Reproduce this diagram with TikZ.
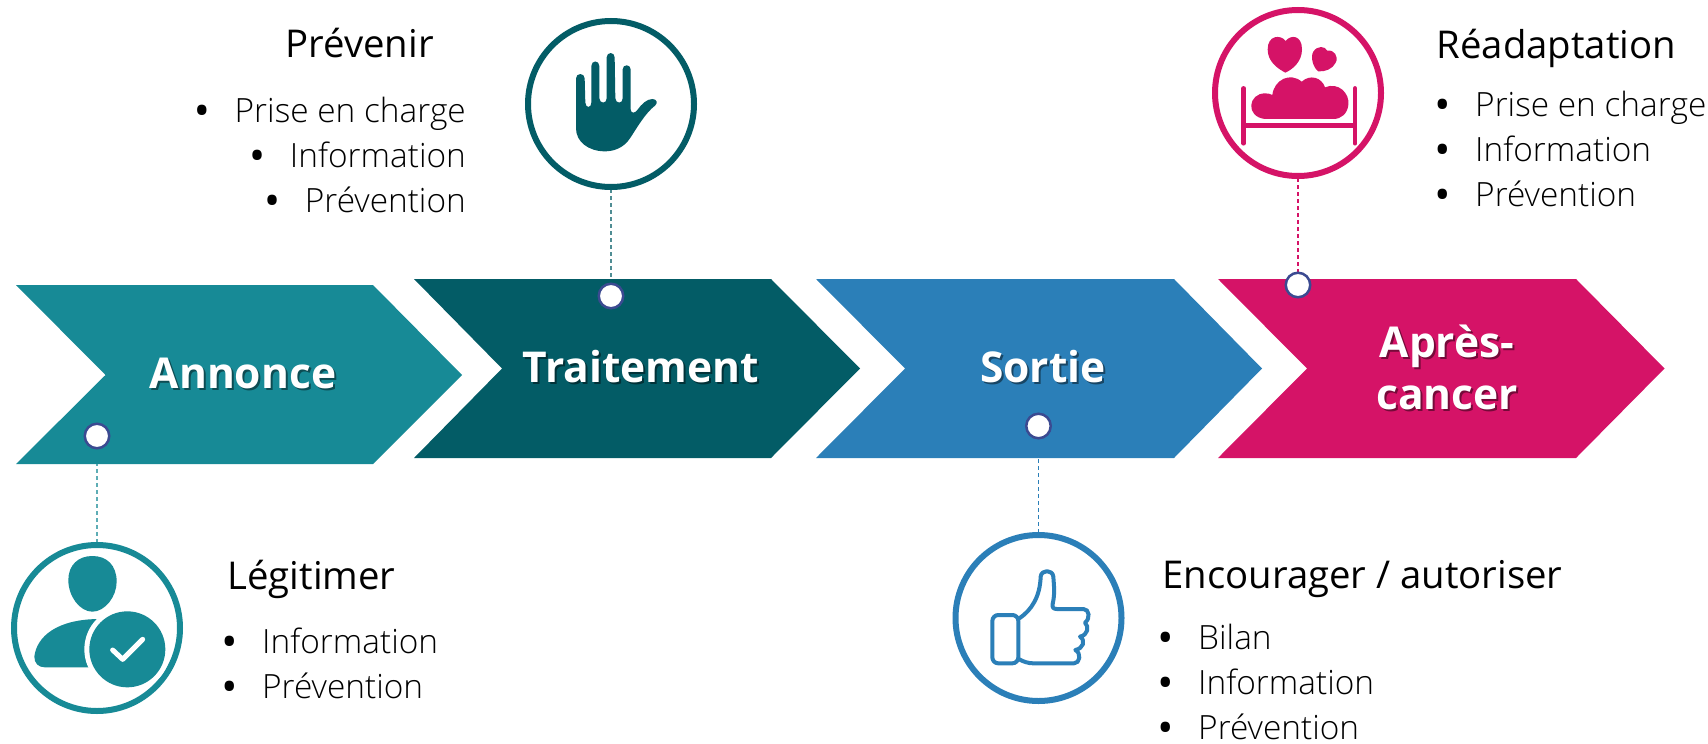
\documentclass[tikz,border=0pt]{standalone}
\usepackage{fontspec}
\setmainfont{Open Sans}
\newfontfamily\lightfont{Open Sans Light}
\usetikzlibrary{backgrounds}
\definecolor{tealA}{HTML}{178A96}
\definecolor{tealB}{HTML}{035C66}
\definecolor{blueC}{HTML}{2B7FB8}
\definecolor{pinkD}{HTML}{D51367}
\definecolor{dotblue}{HTML}{3B4A91}
\tikzset{
    ring/.style={circle, draw=#1, line width=6pt, fill=white, minimum size=166pt, inner sep=0pt, outer sep=0pt},
    dot/.style={circle, draw=dotblue, line width=2.5pt, fill=white, minimum size=24.5pt, inner sep=0pt, outer sep=0pt},
    link/.style={draw=#1, line width=1.3pt, dash pattern=on 4pt off 3pt},
    chevlabel/.style={text=white, font=\fontsize{42.5}{52}\selectfont\bfseries, align=center},
    title/.style={anchor=base west, font=\fontsize{38.3}{44}\selectfont},
    items/.style={anchor=north west, align=left, inner sep=0pt, font=\lightfont\fontsize{33.4}{45}\selectfont},
    itemsright/.style={anchor=north east, align=right, inner sep=0pt, font=\lightfont\fontsize{33.4}{45}\selectfont},
}
\newcommand{\bul}{\makebox[36pt][l]{\hspace{-3pt}{\normalfont\bfseries\textbullet}}}
\newcommand{\ombre}[2]{\makebox[0pt][l]{\raisebox{-2pt}{\hspace{2pt}\textcolor{#1!55!black}{#2}}}#2}
\begin{document}
\begin{tikzpicture}[x=1pt,y=-1pt]
    \useasboundingbox (0,0) rectangle (1708,744);
    % Fleches
    \fill[tealA] (16,285) -- (373,285) -- (462,375) -- (373,464) -- (16,464) -- (105.5,375) -- cycle;
    \fill[tealB] (414,279) -- (771,279) -- (860,368.5) -- (771,458) -- (414,458) -- (502,368.5) -- cycle;
    \fill[blueC] (816,279) -- (1174,279) -- (1262,368.5) -- (1174,458) -- (816,458) -- (905,368.5) -- cycle;
    \fill[pinkD] (1218,279) -- (1576,279) -- (1664.5,368.5) -- (1576,458) -- (1218,458) -- (1307,368.5) -- cycle;
    \node[chevlabel] (annonce) at (243,374) {\ombre{tealA}{Annonce}};
    \node[chevlabel] (traitement) at (641,368) {\ombre{tealB}{Traitement}};
    \node[chevlabel] (sortie) at (1043,368) {\ombre{blueC}{Sortie}};
    \node[chevlabel] (apres) at (1447,368) {\ombre{pinkD}{Après-}\\\ombre{pinkD}{cancer}};
    % Cercles
    \node[ring=tealA] (legit) at (97,628) {};
    \node[ring=tealB] (stop) at (611,104) {};
    \node[ring=blueC] (pouce) at (1038.5,618) {};
    \node[ring=pinkD] (lit) at (1298,93) {};
    \node[dot] (dotlegit) at (97,436) {};
    \node[dot] (dotstop) at (611,296) {};
    \node[dot] (dotpouce) at (1038.5,426) {};
    \node[dot] (dotlit) at (1298,285) {};
    % Liens
    \begin{scope}[on background layer]
        \draw[link=tealA!70] (dotlegit) -- (legit);
        \draw[link=tealB!70] (dotstop) -- (stop);
        \draw[link=blueC] (dotpouce) -- (pouce);
        \draw[link=pinkD] (dotlit) -- (lit);
    \end{scope}
    % Personne
    \begin{scope}[shift={(0,400)},scale=1/3]
        \fill[tealA] (277,468) .. controls (235,468) and (205,495) .. (205,540)
            .. controls (205,590) and (240,635) .. (277,635)
            .. controls (315,635) and (350,590) .. (350,545)
            .. controls (350,495) and (320,468) .. (277,468) -- cycle;
        \fill[tealA] (300,657) .. controls (170,657) and (110,710) .. (103,770)
            .. controls (103,790) and (115,802) .. (135,802) -- (300,802) -- cycle;
        \fill[white] (382,748) circle (129);
        \fill[tealA] (382,748) circle (114);
        \draw[white, line width=5pt, line cap=round, line join=round] (338,750) -- (368,778) -- (428,718);
    \end{scope}
    % Main
    \begin{scope}[shift={(480,0)},scale=1/3]
        \fill[tealB] (288,235) .. controls (288,218) and (314,218) .. (314,235)
            -- (316,308) .. controls (317,325) and (334,325) .. (334,308)
            -- (334,198) .. controls (334,180) and (358,180) .. (358,198)
            -- (358,295) .. controls (359,312) and (380,312) .. (380,295)
            -- (380,172) .. controls (380,155) and (404,155) .. (404,172)
            -- (406,295) .. controls (407,312) and (428,312) .. (428,295)
            -- (428,208) .. controls (428,192) and (452,192) .. (452,208)
            -- (452,328) .. controls (453,342) and (465,340) .. (472,330)
            .. controls (485,312) and (500,297) .. (518,297)
            .. controls (530,298) and (534,308) .. (526,316)
            .. controls (495,340) and (470,385) .. (450,415)
            .. controls (430,445) and (400,454) .. (375,454)
            .. controls (325,454) and (288,425) .. (288,385) -- cycle;
    \end{scope}
    % Pouce
    \begin{scope}[shift={(930,400)},scale=1/3, line width=4pt, line join=round]
        \draw[blueC, rounded corners=6pt] (187,645) rectangle (265,790);
        \draw[blueC] (268,655) .. controls (305,630) and (330,590) .. (332,530)
            .. controls (334,508) and (368,508) .. (370,530)
            .. controls (372,560) and (375,580) .. (368,612)
            .. controls (366,622) and (370,627) .. (380,627) -- (460,627)
            .. controls (478,627) and (482,655) .. (465,668)
            .. controls (478,680) and (474,705) .. (450,710)
            .. controls (468,722) and (460,745) .. (436,750)
            .. controls (455,760) and (450,790) .. (432,790)
            -- (310,790) .. controls (295,790) and (280,785) .. (268,778);
    \end{scope}
    % Lit
    \begin{scope}[shift={(1190,0)},scale=1/3]
        \draw[pinkD, line width=4.5pt, line cap=round] (161,265) -- (161,430);
        \draw[pinkD, line width=4.5pt, line cap=round] (495,265) -- (495,430);
        \draw[pinkD, line width=4.5pt] (161,377) -- (495,377);
        \fill[pinkD] (225,357) .. controls (165,350) and (175,280) .. (225,280)
            .. controls (235,280) and (242,282) .. (247,285)
            .. controls (252,240) and (300,215) .. (335,245)
            .. controls (360,222) and (395,232) .. (405,262)
            .. controls (445,245) and (480,280) .. (475,315)
            .. controls (472,340) and (455,357) .. (430,357) -- cycle;
        \fill[pinkD] (286,218) .. controls (262,205) and (233,185) .. (233,148)
            .. controls (233,105) and (272,103) .. (287,123)
            .. controls (302,103) and (336,105) .. (336,148)
            .. controls (336,185) and (308,208) .. (286,218) -- cycle;
        \fill[pinkD] (385,214) .. controls (370,205) and (360,170) .. (370,155)
            .. controls (382,136) and (405,138) .. (412,152)
            .. controls (432,148) and (447,170) .. (437,188)
            .. controls (428,207) and (405,216) .. (385,214) -- cycle;
    \end{scope}
    % Texte
    \node[title] (tlegit) at (224,589) {Légitimer};
    \node[items] (llegit) at (226,628) {\bul Information\\\bul Prévention};
    \node[title] (tstop) at (282,57) {Prévenir};
    \node[itemsright] (lstop) at (466,97) {\bul Prise en charge\\\bul Information\\\bul Prévention};
    \node[title] (tpouce) at (1159,588) {Encourager / autoriser};
    \node[items] (lpouce) at (1162,624) {\bul Bilan\\\bul Information\\\bul Prévention};
    \node[title] (tlit) at (1433,58) {Réadaptation};
    \node[items] (llit) at (1439,91) {\bul Prise en charge\\\bul Information\\\bul Prévention};
\end{tikzpicture}
\end{document}
